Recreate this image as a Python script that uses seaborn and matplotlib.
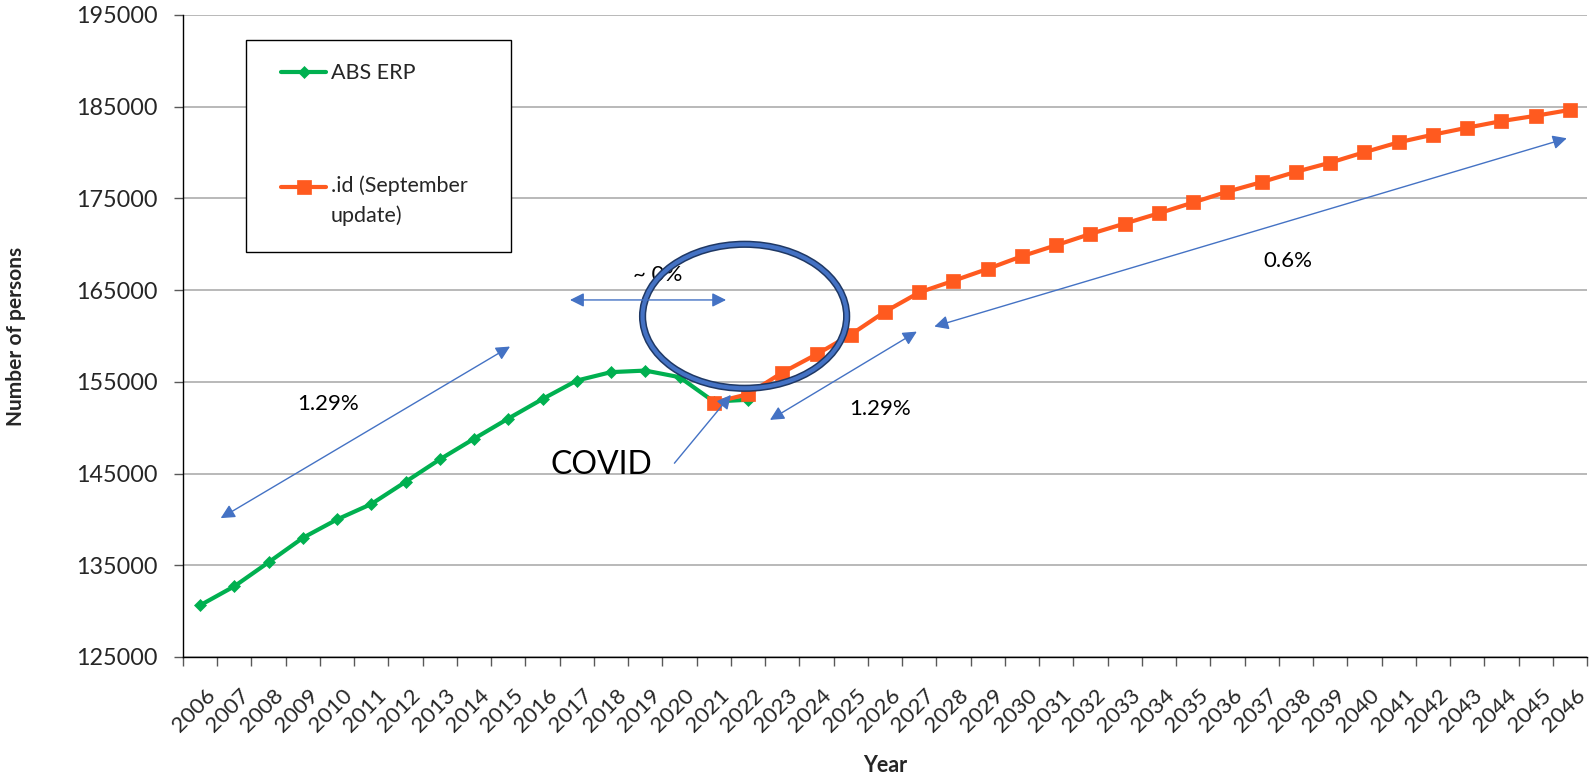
import numpy as np
import pandas as pd
import matplotlib
matplotlib.use("Agg")
import matplotlib.pyplot as plt
import matplotlib.transforms as mtrans
from matplotlib.patches import Ellipse, Rectangle
import seaborn as sns

# ---------------- data ----------------
abs_years = list(range(2006, 2023))
abs_erp = [130640, 132710, 135330, 137990, 140000, 141680, 144100, 146550, 148800,
           151000, 153130, 155140, 156060, 156230, 155510, 152850, 153050]

id_years = list(range(2021, 2047))
id_forecast = [152740, 153660, 156010, 158000, 160150, 162650, 164750, 166020, 167320,
               168700, 169900, 171130, 172260, 173380, 174560, 175740, 176780, 177900,
               178900, 180040, 181120, 181950, 182710, 183430, 184010, 184650]

all_years = list(range(2006, 2047))
y_ticks = [125000, 135000, 145000, 155000, 165000, 175000, 185000, 195000]

series_labels = ["ABS ERP", ".id (September\nupdate)"]
x_label = "Year"
y_label = "Number of persons"

# annotations: (text, x, y)
growth_texts = [("1.29%", 2009.75, 152600), ("~ 0%", 2019.35, 166700),
                ("1.29%", 2025.85, 152050), ("0.6%", 2037.75, 168200)]
double_arrows = [((2006.60, 140140), (2015.05, 158850)),
                 ((2016.80, 163930), (2021.36, 163930)),
                 ((2022.64, 150850), (2026.93, 160480)),
                 ((2027.44, 161030), (2045.91, 181560))]
covid_text = ("COVID", 2017.73, 145950)
covid_arrow = ((2019.85, 146130), (2021.50, 153580))
covid_ellipse = (2021.90, 162150, 5.96, 15700)

# ---------------- style ----------------
sns.set_theme(style="white")
plt.rcParams["font.family"] = ["Lato", "DejaVu Sans"]

GREEN = "#00B050"
ORANGE = "#FF5A1F"
BLUE = "#4472C4"
NAVY = "#1F3864"

fig = plt.figure(figsize=(15.89, 7.75), dpi=100)
ax = fig.add_axes([0.11517, 0.15226, 0.88358, 0.82839])

df_abs = pd.DataFrame({"year": abs_years, "persons": abs_erp})
df_id = pd.DataFrame({"year": id_years, "persons": id_forecast})

sns.lineplot(data=df_abs, x="year", y="persons", ax=ax, color=GREEN, lw=3,
             marker="D", markersize=6.5, markeredgecolor=GREEN, markeredgewidth=0.5,
             label=series_labels[0], zorder=3)
sns.lineplot(data=df_id, x="year", y="persons", ax=ax, color=ORANGE, lw=3,
             marker="s", markersize=9.8, markeredgecolor=ORANGE, markeredgewidth=0.5,
             label=series_labels[1], zorder=3.5)

ax.set_xlim(2005.5, 2046.5)
ax.set_ylim(125000, 195000)
ax.set_yticks(y_ticks)
ax.set_yticklabels([str(v) for v in y_ticks], fontsize=16.8)
ax.yaxis.grid(True, color="#A6A6A6", lw=1.1)
ax.xaxis.grid(False)
ax.set_axisbelow(True)

ax.set_xticks(all_years)
ax.set_xticklabels([str(y) for y in all_years], fontsize=16, rotation=45,
                   ha="right", va="top", rotation_mode="anchor")
ax.set_xticks(np.arange(2005.5, 2047.0, 1.0), minor=True)
ax.tick_params(axis="x", which="major", length=0, pad=20)
ax.tick_params(axis="x", which="minor", length=6.5, width=1, color="#595959", direction="out")
ax.tick_params(axis="y", which="major", length=6.5, width=1, color="#595959",
               direction="out", pad=12, left=True)
ax.tick_params(axis="x", which="minor", bottom=True)
offset = mtrans.ScaledTranslation(5 / 100, 0, fig.dpi_scale_trans)
for lab in ax.get_xticklabels():
    lab.set_transform(lab.get_transform() + offset)

for s in ["top", "right"]:
    ax.spines[s].set_visible(False)
for s in ["left", "bottom"]:
    ax.spines[s].set_color("black")
    ax.spines[s].set_linewidth(1)

ax.set_xlabel(x_label, fontsize=15.5, fontweight="bold", labelpad=14)
ax.set_ylabel(y_label, fontsize=15, fontweight="bold", labelpad=36)

# legend with custom frame
rect = Rectangle((0.04487, 0.6308), 0.1887, 0.3303, transform=ax.transAxes,
                 facecolor="white", edgecolor="black", lw=1, zorder=5)
ax.add_patch(rect)
handles, labels = ax.get_legend_handles_labels()
leg = ax.legend(handles, labels, loc="upper left", bbox_to_anchor=(0.0698, 0.925),
                frameon=False, borderpad=0, borderaxespad=0, handlelength=2.1,
                handletextpad=0.2, labelspacing=4.3, fontsize=15.5)
leg.set_zorder(6)
for t in leg.get_texts():
    t.set_linespacing(1.55)
# align the second handle with the first line of its two-line label
for h in leg.legend_handles[1:]:
    h.set_ydata(np.asarray(h.get_ydata(), dtype=float) + 10.5)

# annotations
for txt, x, y in growth_texts:
    ax.text(x, y, txt, fontsize=16, ha="center", va="center", color="black", zorder=4)
for (p1, p2) in double_arrows:
    ax.annotate("", xy=p2, xytext=p1,
                arrowprops=dict(arrowstyle="<|-|>", color=BLUE, lw=1, mutation_scale=21,
                                shrinkA=0, shrinkB=0), zorder=7)
ax.annotate("", xy=covid_arrow[1], xytext=covid_arrow[0],
            arrowprops=dict(arrowstyle="-|>", color=BLUE, lw=1, mutation_scale=21,
                            shrinkA=0, shrinkB=0), zorder=7)
ax.text(covid_text[1], covid_text[2], covid_text[0], fontsize=23, ha="center",
        va="center", color="black", zorder=4)

ex, ey, ew, eh = covid_ellipse
ax.add_patch(Ellipse((ex, ey), ew, eh, fill=False, edgecolor=NAVY, lw=5.2, zorder=6))
ax.add_patch(Ellipse((ex, ey), ew, eh, fill=False, edgecolor=BLUE, lw=3.0, zorder=6.1))

fig.savefig("out.png", dpi=100)
